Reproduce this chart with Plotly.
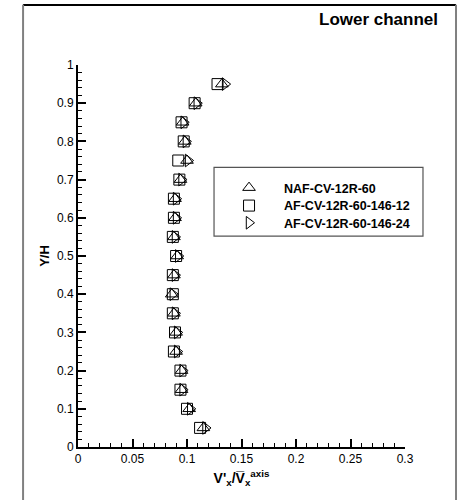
import plotly.graph_objects as go

y_vals = [0.05, 0.10, 0.15, 0.20, 0.25, 0.30, 0.35, 0.40, 0.45, 0.50,
          0.55, 0.60, 0.65, 0.70, 0.75, 0.80, 0.85, 0.90, 0.95]
naf_12r_60 = [0.115, 0.102, 0.095, 0.095, 0.090, 0.090, 0.088, 0.086, 0.088, 0.091,
              0.088, 0.089, 0.089, 0.094, 0.100, 0.098, 0.096, 0.108, 0.132]
af_146_12 = [0.112, 0.100, 0.094, 0.094, 0.088, 0.089, 0.087, 0.087, 0.087, 0.090,
             0.087, 0.088, 0.088, 0.093, 0.092, 0.097, 0.095, 0.107, 0.128]
af_146_24 = [0.117, 0.103, 0.096, 0.096, 0.091, 0.091, 0.089, 0.087, 0.089, 0.092,
             0.089, 0.090, 0.090, 0.095, 0.101, 0.099, 0.097, 0.109, 0.135]
series_names = ["NAF-CV-12R-60", "AF-CV-12R-60-146-12", "AF-CV-12R-60-146-24"]
x_ticks = [0, 0.05, 0.1, 0.15, 0.2, 0.25, 0.3]
y_ticks = [0, 0.1, 0.2, 0.3, 0.4, 0.5, 0.6, 0.7, 0.8, 0.9, 1]

FONT = "Arial, 'Liberation Sans', sans-serif"
symbols = ["triangle-up-open", "square-open", "triangle-right-open"]
series = [naf_12r_60, af_146_12, af_146_24]
legend_ids = ["legend", "legend2", "legend3"]
legend_rows = [0.678, 0.631, 0.586]

fig = go.Figure()
for name, xs, sym, lid in zip(series_names, series, symbols, legend_ids):
    fig.add_trace(go.Scatter(
        x=xs, y=y_vals, mode="markers", name="<b>" + name + "</b>", legend=lid,
        marker=dict(symbol=sym, size=11, color="black", line=dict(width=1, color="black")),
    ))

axis_common = dict(
    showgrid=False, zeroline=False, showline=True, linecolor="black", linewidth=2,
    ticks="inside", ticklen=8, tickwidth=1.5, tickcolor="black",
    tickfont=dict(family=FONT, size=12, color="black"),
    mirror=False,
)

legend_layout = {}
for lid, ly in zip(legend_ids, legend_rows):
    legend_layout[lid] = dict(
        x=0.416, y=ly, xanchor="left", yanchor="middle",
        borderwidth=0, bgcolor="rgba(0,0,0,0)",
        font=dict(family=FONT, size=12.5, color="black"),
        itemwidth=60,
    )

fig.update_layout(
    width=461, height=500,
    margin=dict(l=78, r=56, t=65, b=53),
    paper_bgcolor="white", plot_bgcolor="white",
    font=dict(family=FONT, color="black"),
    showlegend=True,
    **legend_layout,
    xaxis=dict(
        range=[0, 0.3], tickvals=x_ticks, ticktext=[f"{v:g}" for v in x_ticks],
        minor=dict(ticks="inside", ticklen=4, tickwidth=1, tickcolor="black", dtick=0.01),
        title=dict(text="<b>V'<sub>x</sub>/V\u0305<sub>x</sub><sup>axis</sup></b>",
                   font=dict(family=FONT, size=14), standoff=8),
        **axis_common,
    ),
    yaxis=dict(
        range=[0, 1], tickvals=y_ticks, ticktext=[f"{v:g}" for v in y_ticks],
        minor=dict(ticks="inside", ticklen=4, tickwidth=1, tickcolor="black", dtick=0.02),
        title=dict(text="<b>Y/H</b>", font=dict(family=FONT, size=13), standoff=4),
        **axis_common,
    ),
    shapes=[
        # legend frame
        dict(type="rect", xref="paper", yref="paper",
             x0=0.416, x1=1.055, y0=0.552, y1=0.732,
             line=dict(color="#555555", width=1.2), fillcolor="white", layer="below"),
        # outer frame: black top, gray sides
        dict(type="line", xref="paper", yref="paper", x0=-0.168, x1=1.156, y0=1.157, y1=1.157,
             line=dict(color="black", width=2)),
        dict(type="line", xref="paper", yref="paper", x0=-0.168, x1=-0.168, y0=-0.2, y1=1.158,
             line=dict(color="#808080", width=2)),
        dict(type="line", xref="paper", yref="paper", x0=1.156, x1=1.156, y0=-0.2, y1=1.158,
             line=dict(color="#808080", width=2)),
    ],
    annotations=[dict(text="<b>Lower channel</b>", xref="paper", yref="paper",
                      x=1.107, y=1.118, xanchor="right", yanchor="middle", showarrow=False,
                      font=dict(family=FONT, size=17, color="black"))],
)

fig.write_html("out.html", config={"displayModeBar": False},
               post_script="document.body.style.margin='0';document.body.style.overflow='hidden';")
